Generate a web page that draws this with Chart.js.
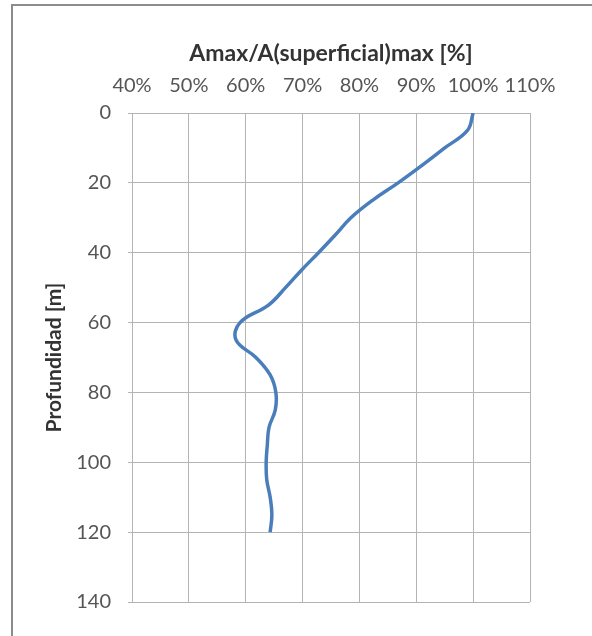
<!DOCTYPE html>
<html>
<head>
<meta charset="utf-8">
<script src="https://cdn.jsdelivr.net/npm/chart.js@4/dist/chart.umd.min.js"></script>
<style>
  html, body { margin: 0; padding: 0; background: #fff; }
  #wrap { width: 592px; height: 636px; position: relative; }
</style>
</head>
<body>
<div id="wrap"><canvas id="chart"></canvas></div>
<script>
// depth in metres, ratio Amax / A(superficial)max in percent
const depths = [0, 5, 10, 15, 20, 25, 30, 35, 40, 45, 50, 55, 60, 65, 70, 75, 80, 85, 90, 95, 100, 105, 110, 115, 120];
const ratios = [100, 99, 95, 91, 86.8, 82.3, 78.5, 75.7, 72.8, 69.8, 67, 64, 59, 58.3, 61.8, 64.3, 65.3, 65.2, 64.1, 63.8, 63.6, 63.7, 64.3, 64.6, 64.3];

const xTicks = [40, 50, 60, 70, 80, 90, 100, 110];
const yTicks = [0, 20, 40, 60, 80, 100, 120, 140];

const xTitle = 'Amax/A(superficial)max [%]';
const yTitle = 'Profundidad [m]';

const fontFamily = 'Lato, "Open Sans", sans-serif';
const gridColor = '#b4b4b4';

// thin frame around the whole chart area (only left and top are visible in the picture)
const frame = {
  id: 'frame',
  beforeDraw(chart) {
    const ctx = chart.ctx;
    ctx.save();
    ctx.strokeStyle = '#8c8c8c';
    ctx.lineWidth = 2;
    ctx.beginPath();
    ctx.moveTo(12, chart.height);
    ctx.lineTo(12, 5);
    ctx.lineTo(chart.width, 5);
    ctx.stroke();
    ctx.restore();
  }
};

new Chart(document.getElementById('chart'), {
  type: 'scatter',
  data: {
    datasets: [{
      data: depths.map((d, i) => ({ x: ratios[i], y: d })),
      showLine: true,
      borderColor: '#4a7ebb',
      borderWidth: 3.5,
      pointRadius: 0,
      tension: 0.4
    }]
  },
  options: {
    responsive: true,
    maintainAspectRatio: false,
    animation: false,
    layout: { padding: { left: 0, top: 0, right: 62, bottom: 34 } },
    plugins: {
      legend: { display: false },
      tooltip: { enabled: false }
    },
    scales: {
      x: {
        type: 'linear',
        position: 'top',
        min: 40,
        max: 110,
        afterBuildTicks: s => { s.ticks = xTicks.map(v => ({ value: v })); },
        afterFit: s => { s.height = 113; },
        grid: { color: gridColor, drawTicks: false },
        border: { color: gridColor },
        ticks: {
          padding: 15,
          maxRotation: 0,
          autoSkip: false,
          color: '#555',
          font: { family: fontFamily, size: 20 },
          callback: v => v + '%'
        },
        title: {
          display: true,
          text: xTitle,
          color: '#333',
          font: { family: fontFamily, size: 23, weight: 'bold' },
          padding: { top: 40, bottom: 0 }
        }
      },
      y: {
        type: 'linear',
        reverse: true,
        min: 0,
        max: 140,
        afterBuildTicks: s => { s.ticks = yTicks.map(v => ({ value: v })); },
        afterFit: s => { s.width = 132; },
        grid: { color: gridColor, tickLength: 4 },
        border: { color: gridColor },
        ticks: {
          padding: 17,
          color: '#555',
          font: { family: fontFamily, size: 20 }
        },
        title: {
          display: true,
          text: yTitle,
          color: '#333',
          font: { family: fontFamily, size: 21, weight: 'bold' },
          padding: { top: 42, bottom: 0 }
        }
      }
    }
  },
  plugins: [frame]
});
</script>
</body>
</html>
